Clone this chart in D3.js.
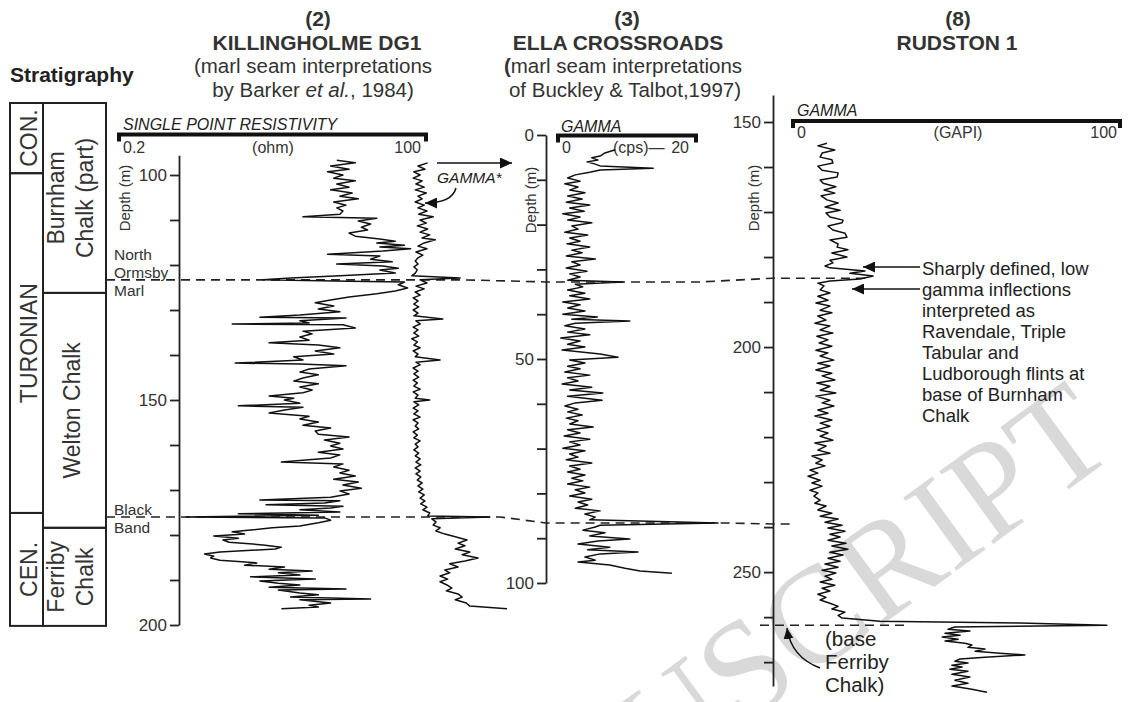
<!DOCTYPE html>
<html>
<head>
<meta charset="utf-8">
<script src="https://cdn.jsdelivr.net/npm/d3@7"></script>
<style>
  body { margin: 0; background: #fff; }
  svg text { font-family: "Liberation Sans", Arial, sans-serif; fill: #333; }
  .axis path, .axis line { stroke: #222; stroke-width: 1.8; }
  .axis text { font-size: 17px; fill: #333; }
  .curve { fill: none; stroke: #111; stroke-width: 1.5; stroke-linejoin: round; }
  .horizon { fill: none; stroke: #222; stroke-width: 1.6; stroke-dasharray: 9 6; }
</style>
</head>
<body>
<svg id="chart" width="1128" height="702"></svg>
<script>
// depth (m), value
const killResistivity = [
  [96.7,71],[97.3,77],[98.0,69],[98.7,75],[99.3,68],[100.0,73],[100.7,70],[101.3,77],[102.0,71],[102.7,75],
  [103.3,69],[104.0,76],[104.7,72],[105.3,78],[106.0,70],[106.7,74],[107.3,71],[108.0,73],[108.7,72],[109.3,60],
  [109.6,84],[110.2,78],[110.9,82],[111.6,79],[112.2,81],[112.9,75],[113.6,77],[114.2,85],[114.7,90],[115.1,84],
  [115.6,93],[116.0,85],[116.4,95],[116.9,86],[117.6,68],[118.0,85],[118.7,82],[119.3,89],[119.8,71],[120.2,86],
  [120.7,91],[121.1,85],[121.8,90],[122.4,72],[122.9,56],[123.3,47],[123.6,75],[123.8,93],[124.4,91],[125.1,94],
  [125.8,90],[126.4,84],[127.1,75],[127.8,69],[128.4,64],[129.1,70],[129.8,65],[130.4,72],[131.1,59],[131.6,46],
  [131.8,74],[132.4,59],[132.9,62],[133.1,37],[133.3,73],[134.0,77],[134.7,60],[135.3,63],[136.0,59],[136.7,62],
  [137.3,49],[137.8,65],[138.4,72],[139.1,64],[139.8,70],[140.4,57],[141.1,60],[141.8,38],[142.0,59],[142.4,74],
  [143.1,62],[143.8,59],[144.4,65],[145.1,60],[145.8,57],[146.4,65],[147.1,59],[147.8,63],[148.4,60],[149.1,49],
  [149.6,57],[150.0,54],[150.7,59],[151.3,39],[151.6,60],[152.2,54],[152.9,49],[153.6,62],[154.2,59],[154.9,65],
  [155.6,60],[156.2,69],[156.9,64],[157.6,65],[158.2,75],[158.9,67],[159.6,72],[160.2,69],[160.9,73],[161.6,65],
  [162.2,72],[162.9,69],[163.8,53],[164.2,73],[164.9,70],[165.6,75],[166.2,72],[166.9,77],[167.6,70],[168.2,78],
  [168.9,73],[169.6,79],[170.2,72],[170.9,75],[171.6,69],[172.2,46],[172.4,72],[172.9,67],[173.3,48],[173.6,73],
  [174.0,69],[174.4,59],[174.9,72],[175.3,39],[175.6,65],[176.0,22],[176.2,67],[176.7,69],[177.3,65],[178.0,59],
  [178.4,50],[178.9,43],[179.3,37],[179.8,41],[180.2,31],[180.7,39],[181.1,34],[181.6,36],[182.2,47],[182.7,53],
  [183.1,51],[183.8,33],[184.2,28],[184.7,31],[185.1,30],[185.6,33],[186.2,45],[186.7,41],[187.1,54],[187.6,49],
  [188.0,63],[188.4,52],[188.9,59],[189.3,43],[189.8,64],[190.2,46],[190.7,52],[191.1,59],[191.6,49],[192.0,74],
  [192.2,52],[192.9,59],[193.3,65],[193.8,56],[194.2,82],[194.4,59],[195.1,69],[195.6,62],[196.0,65],[196.4,53]
];

const killGamma = [
  [97.3,4.3],[98.0,2.9],[98.7,3.9],[99.3,2.3],[100.0,3.2],[100.7,2.2],[101.3,3.5],[102.0,2.6],[102.7,3.8],[103.3,2.5],
  [104.0,4.1],[104.7,2.9],[105.3,3.5],[106.0,2.5],[106.7,3.8],[107.3,2.9],[108.0,4.2],[108.7,3.0],[109.3,5.1],[110.0,3.2],
  [110.7,4.1],[111.3,2.8],[112.0,4.3],[112.7,3.2],[113.3,4.6],[114.0,3.5],[114.4,5.4],[115.1,3.8],[115.8,2.9],[116.4,4.2],
  [117.1,2.6],[117.8,3.6],[118.4,2.9],[119.1,2.5],[119.8,2.9],[120.4,2.3],[121.1,2.8],[121.8,2.5],[122.4,2.0],[122.9,9.0],
  [123.3,3.2],[124.0,4.2],[124.7,2.6],[125.3,3.8],[126.0,2.5],[126.7,3.2],[127.3,2.2],[128.0,2.9],[128.7,2.3],[129.3,3.0],
  [130.0,2.2],[130.7,2.9],[131.3,2.3],[132.0,6.5],[132.4,2.6],[133.1,3.2],[133.8,2.2],[134.4,2.9],[135.1,2.3],[135.8,3.0],
  [136.4,2.0],[137.1,2.8],[137.8,2.3],[138.4,3.2],[139.1,2.2],[139.8,2.9],[140.4,2.5],[141.1,6.1],[141.6,2.6],[142.2,3.2],
  [142.9,2.2],[143.6,2.9],[144.2,2.3],[144.9,3.0],[145.6,2.2],[146.2,2.8],[146.9,2.3],[147.6,3.2],[148.2,2.2],[148.9,2.9],
  [149.6,2.5],[150.0,4.6],[150.4,2.3],[151.1,3.0],[151.8,2.2],[152.4,2.9],[153.1,2.3],[153.8,3.2],[154.4,2.2],[155.1,2.9],
  [155.8,2.5],[156.4,3.0],[157.1,2.2],[157.8,2.8],[158.4,2.3],[159.1,3.2],[159.8,2.5],[160.4,2.9],[161.1,2.3],[161.8,3.0],
  [162.4,2.5],[163.1,3.2],[163.8,2.6],[164.4,3.3],[165.1,2.5],[165.8,3.2],[166.4,2.6],[167.1,3.3],[167.8,2.8],[168.4,3.5],
  [169.1,2.9],[169.8,3.6],[170.4,3.0],[171.1,3.8],[171.8,3.2],[172.4,3.9],[173.1,3.3],[173.8,4.2],[174.4,3.6],[175.1,4.6],
  [175.8,4.3],[176.0,13.3],[176.4,4.9],[177.1,5.5],[177.8,5.1],[178.4,6.1],[179.1,5.5],[179.8,6.8],[180.4,8.3],[181.1,10.0],
  [181.8,8.7],[182.4,9.7],[183.1,8.3],[183.8,10.4],[184.4,9.3],[185.1,11.6],[185.8,9.7],[186.4,7.5],[187.1,8.7],[187.8,6.8],
  [188.4,7.5],[189.1,6.1],[189.8,7.2],[190.4,6.1],[191.1,7.1],[191.8,7.8],[192.4,7.0],[193.1,8.7],[193.8,9.3],[194.4,8.3],
  [195.1,9.9],[195.8,10.4],[196.4,15.8]
];

const ellaGamma = [
  [3.3,8.3],[4.0,6.8],[4.7,6.1],[5.1,4.9],[5.6,5.8],[6.0,4.2],[6.5,5.4],[6.9,6.1],[7.4,13.8],[7.8,6.1],
  [8.3,4.6],[8.9,2.5],[9.6,1.4],[10.3,3.2],[10.9,1.0],[11.6,2.9],[12.3,1.7],[12.9,3.9],[13.6,1.4],[14.3,3.5],
  [15.0,1.2],[15.6,4.6],[16.3,1.7],[17.0,3.8],[17.6,0.7],[18.3,3.2],[19.0,1.4],[19.6,4.9],[20.3,2.0],[21.0,2.9],
  [21.7,1.0],[22.3,4.3],[23.0,1.7],[23.7,3.2],[24.3,1.3],[25.0,4.6],[25.7,2.0],[26.3,3.5],[27.0,1.2],[27.7,5.4],
  [28.3,2.0],[29.0,3.2],[29.7,1.2],[30.4,4.2],[31.0,1.7],[31.7,3.2],[32.4,1.4],[32.8,9.4],[33.3,2.5],[33.9,3.6],
  [34.6,1.4],[35.3,3.9],[35.9,1.7],[36.6,4.6],[37.3,0.7],[37.9,3.2],[38.6,1.4],[39.3,3.9],[40.0,0.7],[40.6,5.7],
  [41.1,2.0],[41.5,10.4],[42.0,2.5],[42.6,1.0],[43.3,3.9],[44.0,1.4],[44.6,4.6],[45.3,0.4],[46.0,3.2],[46.7,1.4],
  [47.3,3.9],[48.0,0.6],[48.9,6.1],[49.6,8.7],[50.2,1.7],[50.9,3.9],[51.6,1.4],[52.2,3.2],[52.9,1.0],[53.6,4.6],
  [54.2,1.4],[54.9,2.9],[55.6,0.6],[56.3,4.9],[56.9,1.7],[57.6,6.5],[58.3,1.4],[59.2,6.4],[59.8,2.5],[60.5,1.0],
  [61.2,2.9],[61.8,1.4],[62.5,3.5],[63.2,1.2],[63.8,2.9],[64.5,1.7],[65.2,5.1],[65.8,1.4],[66.5,3.2],[67.2,0.9],
  [67.9,4.6],[68.5,1.7],[69.2,3.2],[69.9,0.7],[70.5,3.9],[71.2,1.7],[71.9,2.9],[72.5,1.2],[73.2,4.9],[73.9,1.7],
  [74.6,3.2],[75.2,1.4],[75.9,3.9],[76.6,2.0],[77.2,3.6],[77.9,1.4],[78.6,4.6],[79.2,2.5],[79.9,3.9],[80.6,1.7],
  [81.3,4.9],[81.9,2.9],[82.6,4.3],[83.3,2.5],[83.9,6.1],[84.6,3.9],[85.3,5.4],[85.9,4.6],[86.6,23.2],[87.1,6.1],
  [87.5,5.4],[88.2,3.6],[88.8,6.8],[89.5,4.6],[90.2,10.4],[90.6,5.8],[91.3,2.9],[92.0,7.5],[92.6,4.3],[93.1,11.6],
  [93.5,6.1],[94.2,3.9],[94.9,5.4],[95.3,2.9],[96.0,7.5],[96.7,9.7],[97.3,11.9],[97.8,16.5]
];

const rudGamma = [
  [154.7,10.4],[155.3,7.6],[156.2,12.8],[156.9,8.9],[157.8,8.3],[158.4,11.9],[159.1,12.2],[159.8,7.6],[160.7,8.9],[161.3,13.8],
  [162.2,13.5],[162.9,8.3],[163.6,9.2],[164.4,13.1],[165.1,9.5],[165.8,12.8],[166.4,8.6],[167.3,10.4],[168.0,13.8],[168.9,9.8],
  [169.6,14.4],[170.2,10.1],[171.1,11.3],[171.8,15.3],[172.4,15.0],[173.1,10.7],[174.0,12.2],[174.7,15.9],[175.6,16.5],[176.2,11.3],
  [177.1,13.8],[177.8,13.5],[178.4,16.8],[179.1,11.9],[180.0,16.5],[180.7,11.3],[181.3,12.2],[182.0,9.8],[182.4,11.3],[183.1,22.0],
  [183.6,17.4],[184.2,24.5],[184.9,20.5],[185.3,11.3],[185.8,7.6],[186.4,9.5],[187.3,8.3],[188.0,11.3],[188.7,7.6],[189.6,10.7],
  [190.2,7.0],[190.9,11.3],[191.8,8.3],[192.4,11.9],[193.1,7.6],[194.0,10.1],[194.7,6.7],[195.3,11.3],[196.2,8.3],[196.9,12.2],
  [197.6,7.3],[198.4,10.7],[199.1,8.0],[199.8,11.9],[200.7,7.0],[201.3,10.7],[202.0,8.3],[202.9,12.5],[203.6,7.6],[204.2,11.3],
  [205.1,7.0],[205.8,11.9],[206.4,8.9],[207.3,12.8],[208.0,7.3],[208.7,11.3],[209.6,8.3],[210.2,13.1],[210.9,7.0],[211.8,11.3],
  [212.4,8.9],[213.1,12.5],[214.0,7.6],[214.7,10.7],[215.3,6.7],[216.2,11.9],[216.9,8.3],[217.6,11.3],[218.4,7.3],[219.1,10.7],
  [219.8,8.3],[220.7,12.2],[221.3,6.7],[222.0,10.1],[222.9,7.6],[223.6,11.3],[224.2,5.8],[225.1,8.9],[225.8,7.0],[226.4,9.8],
  [227.3,5.2],[228.0,7.6],[228.7,4.6],[229.6,8.3],[230.2,5.8],[230.9,8.9],[231.8,5.2],[232.4,7.6],[233.1,6.4],[234.0,8.3],
  [234.7,6.7],[235.3,10.1],[236.2,7.6],[236.9,11.9],[237.6,8.3],[238.2,13.8],[238.9,9.8],[239.6,15.0],[240.2,10.7],[240.9,15.9],
  [241.6,11.3],[242.2,14.4],[242.9,10.7],[243.6,16.2],[244.2,11.9],[244.9,16.8],[245.6,11.3],[246.2,15.3],[246.9,10.7],[247.6,14.4],
  [248.2,9.8],[248.9,13.8],[249.6,8.9],[250.2,13.1],[250.9,9.8],[251.6,11.9],[252.2,8.3],[252.9,12.8],[253.6,8.9],[254.2,11.3],
  [254.9,7.6],[255.6,10.1],[256.2,8.3],[256.9,11.3],[257.6,13.8],[258.2,11.9],[258.9,15.9],[259.6,13.8],[260.2,15.0],[260.9,26.6],
  [261.3,69.4],[261.8,96.0],[262.2,49.5],[262.7,47.4],[263.1,54.1],[263.6,46.5],[264.0,51.1],[264.4,45.6],[264.9,50.5],[265.3,46.5],
  [265.8,52.6],[266.2,54.7],[266.7,53.5],[267.1,58.7],[267.6,55.7],[268.0,63.3],[268.4,70.9],[268.9,58.7],[269.3,51.1],[269.8,49.5],
  [270.2,53.5],[270.7,48.6],[271.1,51.7],[271.6,48.0],[272.0,53.5],[272.7,48.6],[273.3,54.1],[274.0,49.5],[274.7,53.5],[275.3,48.6],
  [276.0,54.7],[276.7,59.3]
];

// marker horizons: depth in each well (m)
const horizons = [
  { name: ["North", "Ormsby", "Marl"], kill: 123.3, ella: 32.8, rud: 184.7 },
  { name: ["Black", "Band"], kill: 176.0, ella: 86.6, rud: 239.3 }
];
const baseFerribyRud = 261.8;

// stratigraphy column, Killingholme depths
const stages = [
  { name: "CON.", top: 84, base: 99.6 },
  { name: "TURONIAN", top: 99.6, base: 175.1 },
  { name: "CEN.", top: 175.1, base: 200.2 }
];
const formations = [
  { lines: ["Burnham", "Chalk (part)"], top: 84, base: 126.2 },
  { lines: ["Welton Chalk"], top: 126.2, base: 178.4 },
  { lines: ["Ferriby", "Chalk"], top: 178.4, base: 200.2 }
];

const killTicks = [100, 110, 120, 130, 140, 150, 160, 170, 180, 190, 200];
const killLabels = [100, 150, 200];
const ellaTicks = [0, 10, 20, 30, 40, 50, 60, 70, 80, 90, 100];
const ellaLabels = [0, 50, 100];
const rudTicks = [150, 160, 170, 180, 190, 200, 210, 220, 230, 240, 250, 260, 270];
const rudLabels = [150, 200, 250];

const flintNote = ["Sharply defined, low", "gamma inflections", "interpreted as", "Ravendale, Triple",
  "Tabular and", "Ludborough flints at", "base of Burnham", "Chalk"];
const baseNote = ["(base", "Ferriby", "Chalk)"];

// scales
const yKill = d3.scaleLinear().domain([95.6, 200]).range([155.2, 625]);
const yElla = d3.scaleLinear().domain([0, 100]).range([135, 583]);
const yRud = d3.scaleLinear().domain([144, 275.3]).range([95, 686]);
const xRes = d3.scaleLinear().domain([0.2, 100]).range([119, 426]);
const xGammaK = d3.scaleLinear().domain([0, 20]).range([398, 536]);
const xElla = d3.scaleLinear().domain([0, 20]).range([558, 696]);
const xRud = d3.scaleLinear().domain([0, 100]).range([793, 1120]);

const svg = d3.select("#chart");

const defs = svg.append("defs");
defs.append("marker").attr("id", "head")
  .attr("markerUnits", "userSpaceOnUse").attr("viewBox", "0 0 12 11")
  .attr("markerWidth", 12).attr("markerHeight", 11)
  .attr("refX", 12).attr("refY", 5.5).attr("orient", "auto")
  .append("path").attr("d", "M0,0L12,5.5L0,11Z").attr("fill", "#111");
defs.append("marker").attr("id", "headS")
  .attr("markerUnits", "userSpaceOnUse").attr("viewBox", "0 0 11 10")
  .attr("markerWidth", 11).attr("markerHeight", 10)
  .attr("refX", 11).attr("refY", 5).attr("orient", "auto")
  .append("path").attr("d", "M0,0L11,5L0,10Z").attr("fill", "#111");

// watermark
svg.append("text")
  .attr("transform", "translate(400,975) rotate(-36)")
  .attr("font-size", 138)
  .style("font-family", "'Liberation Serif', 'Times New Roman', serif")
  .style("fill", "#d9d9d9")
  .text("MANUSCRIPT");

function txt(x, y, s, size, opts = {}) {
  const t = svg.append("text").attr("x", x).attr("y", y)
    .attr("font-size", size)
    .attr("text-anchor", opts.anchor || "start")
    .text(s);
  if (opts.weight) t.attr("font-weight", opts.weight);
  if (opts.italic) t.attr("font-style", "italic");
  if (opts.fill) t.style("fill", opts.fill);
  return t;
}

// titles
txt(10, 82, "Stratigraphy", 21, { weight: "bold", fill: "#222" });

txt(318, 26, "(2)", 21, { anchor: "middle", weight: "bold" });
txt(317, 50, "KILLINGHOLME DG1", 21, { anchor: "middle", weight: "bold" });
txt(313, 73, "(marl seam interpretations", 20.5, { anchor: "middle" });
const by = txt(313, 97, "by Barker ", 20.5, { anchor: "middle" });
by.append("tspan").attr("font-style", "italic").text("et al.");
by.append("tspan").text(", 1984)");

txt(627, 26, "(3)", 21, { anchor: "middle", weight: "bold" });
txt(618, 50, "ELLA CROSSROADS", 21, { anchor: "middle", weight: "bold" });
const ellaNote = txt(623, 73, "", 20.5, { anchor: "middle" });
ellaNote.append("tspan").attr("font-weight", "bold").text("(");
ellaNote.append("tspan").text("marl seam interpretations");
txt(625, 97, "of Buckley & Talbot,1997)", 20.5, { anchor: "middle" });

txt(958, 26, "(8)", 21, { anchor: "middle", weight: "bold" });
txt(957, 50, "RUDSTON 1", 21, { anchor: "middle", weight: "bold" });

// stratigraphy column
const colL = 10, colM = 43, colR = 106;
stages.forEach(s => {
  const y0 = yKill(s.top), y1 = yKill(s.base);
  svg.append("rect").attr("x", colL).attr("y", y0).attr("width", colM - colL).attr("height", y1 - y0)
    .attr("fill", "none").attr("stroke", "#222").attr("stroke-width", 2);
  svg.append("text").attr("transform", `translate(37,${(y0 + y1) / 2}) rotate(-90)`)
    .attr("text-anchor", "middle").attr("font-size", 23).text(s.name);
});
formations.forEach(f => {
  const y0 = yKill(f.top), y1 = yKill(f.base);
  svg.append("rect").attr("x", colM).attr("y", y0).attr("width", colR - colM).attr("height", y1 - y0)
    .attr("fill", "none").attr("stroke", "#222").attr("stroke-width", 2);
  const base = f.lines.length === 1 ? [80] : [64, 93];
  f.lines.forEach((l, i) => {
    svg.append("text").attr("transform", `translate(${base[i]},${(y0 + y1) / 2}) rotate(-90)`)
      .attr("text-anchor", "middle").attr("font-size", 23).text(l);
  });
});

// depth axes
function depthAxis(scale, x, ticks, labels) {
  svg.append("g").attr("class", "axis").attr("transform", `translate(${x},0)`)
    .call(d3.axisLeft(scale).tickValues(ticks)
      .tickFormat(d => labels.includes(d) ? d : "")
      .tickSize(9).tickPadding(3).tickSizeOuter(0));
}
depthAxis(yKill, 179, killTicks, killLabels);
depthAxis(yElla, 546, ellaTicks, ellaLabels);
depthAxis(yRud, 773, rudTicks, rudLabels);

function depthTitle(x, y) {
  svg.append("text").attr("transform", `translate(${x},${y}) rotate(-90)`)
    .attr("text-anchor", "middle").attr("font-size", 15).text("Depth (m)");
}
depthTitle(130, 198);
depthTitle(536, 200);
depthTitle(759, 198);

// scale bars
function scaleBar(scale, y) {
  const [x0, x1] = scale.range();
  svg.append("path").attr("d", `M${x0},${y + 7}V${y}H${x1}V${y + 7}`)
    .attr("fill", "none").attr("stroke", "#111").attr("stroke-width", 4);
}
scaleBar(xRes, 134.5);
txt(123, 129.5, "SINGLE  POINT RESISTIVITY", 16, { italic: true, fill: "#222" });
txt(123, 153, "0.2", 16);
txt(273, 153, "(ohm)", 16, { anchor: "middle" });
txt(421, 153, "100", 16, { anchor: "end" });

scaleBar(xElla, 135.5);
txt(561, 131.5, "GAMMA", 16, { italic: true, fill: "#222" });
txt(562, 153, "0", 16);
txt(613, 153, "(cps)\u2014", 16);
txt(689, 153, "20", 16, { anchor: "end" });

scaleBar(xRud, 121);
txt(797, 115.5, "GAMMA", 16, { italic: true, fill: "#222" });
txt(797, 138, "0", 16);
txt(958, 138, "(GAPI)", 16, { anchor: "middle" });
txt(1117, 138, "100", 16, { anchor: "end" });

// correlation lines
const nom = horizons[0], bb = horizons[1];
const hz = d3.line();
svg.append("path").attr("class", "horizon").attr("d", hz([
  [colR, yKill(nom.kill)], [462, yKill(nom.kill)], [546, yElla(nom.ella)],
  [700, yElla(nom.ella)], [773, yRud(nom.rud)], [868, yRud(nom.rud)]
]));
svg.append("path").attr("class", "horizon").attr("d", hz([
  [colR, yKill(bb.kill)], [500, yKill(bb.kill)], [546, yElla(bb.ella)],
  [725, yElla(bb.ella)], [773, yRud(bb.rud)], [792, yRud(bb.rud)]
]));
svg.append("path").attr("class", "horizon").attr("d", hz([
  [760, yRud(baseFerribyRud)], [907, yRud(baseFerribyRud)]
]));

// horizon labels at Killingholme
horizons.forEach(h => {
  const y = yKill(h.kill);
  const offs = h.name.length === 3 ? [-20, -2, 16] : [-2, 16];
  h.name.forEach((n, i) => txt(114, y + offs[i], n, 15.5));
});

// log curves
const logLine = (xs, ys) => d3.line().x(d => xs(d[1])).y(d => ys(d[0]));
svg.append("path").attr("class", "curve").attr("d", logLine(xRes, yKill)(killResistivity));
svg.append("path").attr("class", "curve").attr("d", logLine(xGammaK, yKill)(killGamma));
svg.append("path").attr("class", "curve").attr("d", logLine(xElla, yElla)(ellaGamma));
svg.append("path").attr("class", "curve").attr("d", logLine(xRud, yRud)(rudGamma));

// annotations
function arrow(d, marker) {
  svg.append("path").attr("d", d).attr("fill", "none").attr("stroke", "#111")
    .attr("stroke-width", 1.5).attr("marker-end", `url(#${marker || "head"})`);
}
arrow("M437,163H512");
txt(437, 183, "GAMMA*", 15.5, { italic: true, fill: "#222" });
arrow("M456,188Q452,203 425,203");

arrow("M920,267H863");
arrow("M920,289H852");
flintNote.forEach((l, i) => txt(922, 275 + i * 21, l, 18.5, { fill: "#222" }));

arrow("M820,668Q791,657 787,628", "headS");
baseNote.forEach((l, i) => txt(825, 646 + i * 23, l, 20.5, { fill: "#222" }));
</script>
</body>
</html>
